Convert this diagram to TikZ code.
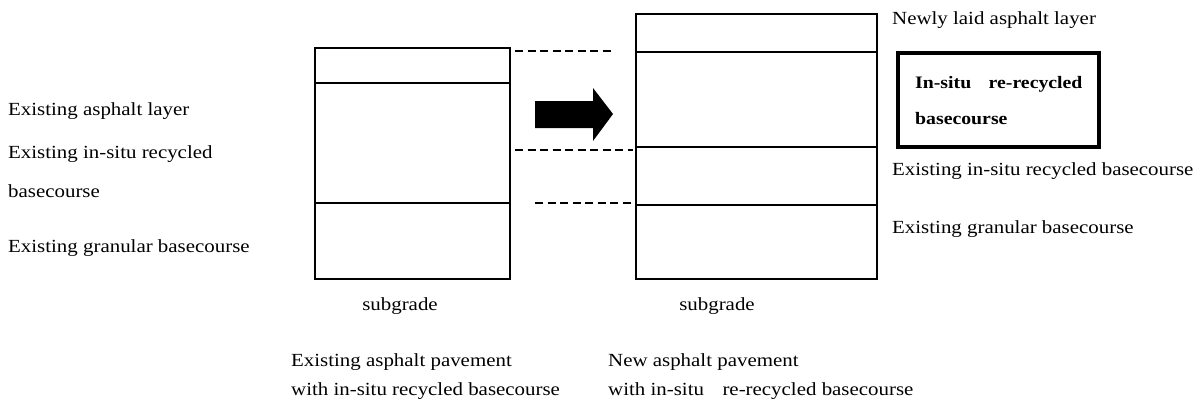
\documentclass[tikz,border=0pt]{standalone}
\usepackage{fontspec}
\setmainfont[FakeStretch=1.13]{Liberation Serif}
\begin{document}
\begin{tikzpicture}[x=1pt,y=-1pt,
  layer/.style={draw,line width=1.5pt,anchor=north west,inner sep=0pt,minimum width=#1},
  lbl/.style={anchor=west,inner sep=0pt,font=\fontsize{18.5}{22}\selectfont},
  clbl/.style={anchor=center,inner sep=0pt,font=\fontsize{18.5}{22}\selectfont},
  dsh/.style={dashed,dash pattern=on 8pt off 4.5pt,line width=1.4pt}]
\useasboundingbox (0,0) rectangle (1196,408);
% left column
\node[layer=195pt,minimum height=35pt] (L1) at (314,47) {};
\node[layer=195pt,minimum height=120pt] (L2) at (314,82) {};
\node[layer=195pt,minimum height=76pt] (L3) at (314,202) {};
% right column
\node[layer=241pt,minimum height=38pt] (R1) at (635,13) {};
\node[layer=241pt,minimum height=95pt] (R2) at (635,51) {};
\node[layer=241pt,minimum height=58pt] (R3) at (635,146) {};
\node[layer=241pt,minimum height=74pt] (R4) at (635,204) {};
% dashed guides
\coordinate (d1a) at (515,51); \coordinate (d1b) at (612,51);
\coordinate (d2a) at (515,150); \coordinate (d2b) at (633,150);
\coordinate (d3a) at (535,203); \coordinate (d3b) at (634,203);
\draw[dsh] (d1a) -- (d1b);
\draw[dsh] (d2a) -- (d2b);
\draw[dsh] (d3a) -- (d3b);
% arrow
\fill (535,101) -- (593,101) -- (593,88) -- (613,114) -- (593,141) -- (593,128) -- (535,128) -- cycle;
% left labels
\node[lbl] (t1) at (8,111) {Existing asphalt layer};
\node[lbl] (t2) at (8,154) {Existing in-situ recycled};
\node[lbl] (t3) at (8,191) {basecourse};
\node[lbl] (t4) at (8,248) {Existing granular basecourse};
% right labels
\node[lbl] (r1) at (892,20) {Newly laid asphalt layer};
\node[draw,line width=4pt,anchor=north west,minimum width=201pt,minimum height=94pt,inner sep=0pt] (hb) at (896,51) {};
\node[lbl,font=\fontsize{17.5}{22}\selectfont\bfseries] (h1) at (915,84) {In-situ\hspace{1em}re-recycled};
\node[lbl,font=\fontsize{17.5}{22}\selectfont\bfseries] (h2) at (915,119) {basecourse};
\node[lbl] (r2) at (892,171) {Existing in-situ recycled basecourse};
\node[lbl] (r3) at (892,229) {Existing granular basecourse};
% subgrade
\node[clbl] (s1) at (400,306) {subgrade};
\node[clbl] (s2) at (717,306) {subgrade};
% captions
\node[lbl] (c1) at (291,362) {Existing asphalt pavement};
\node[lbl] (c2) at (291,391) {with in-situ recycled basecourse};
\node[lbl] (c3) at (608,362) {New asphalt pavement};
\node[lbl] (c4) at (608,391) {with in-situ\hspace{1em}re-recycled basecourse};
\end{tikzpicture}
\end{document}
